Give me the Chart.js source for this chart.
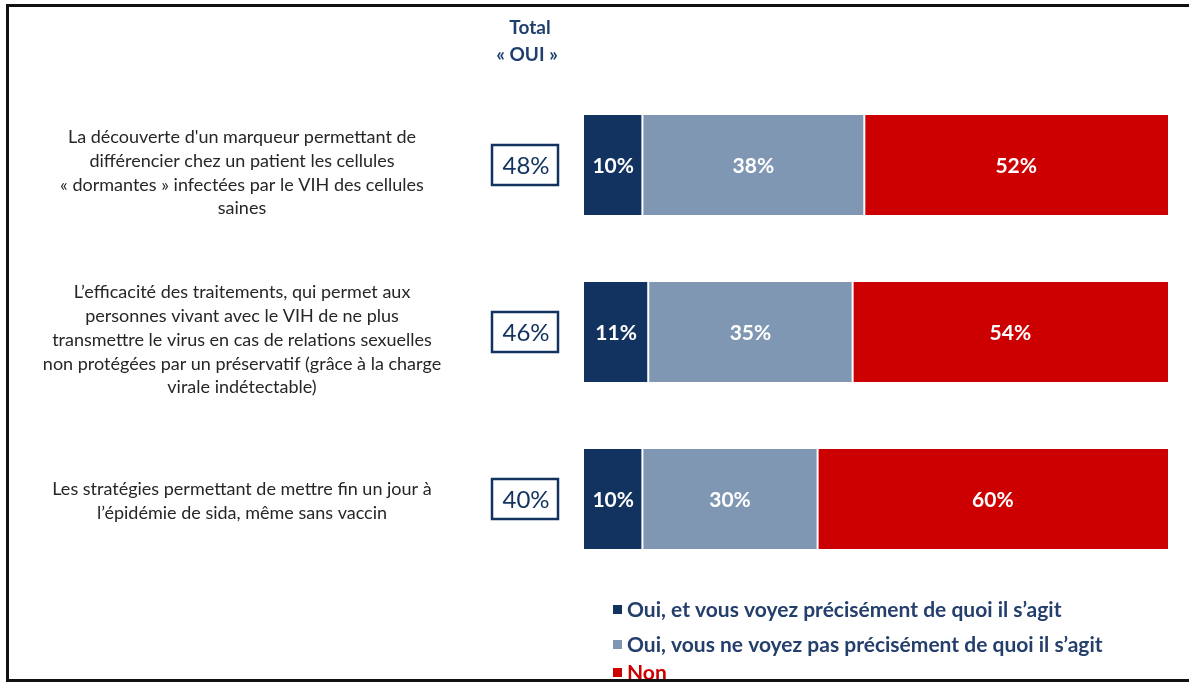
<!DOCTYPE html>
<html><head><meta charset="utf-8">
<script src="https://cdn.jsdelivr.net/npm/chart.js@4"></script>
<style>
html,body{margin:0;padding:0;background:#fff;}
#wrap{position:relative;width:1189px;height:683px;overflow:hidden;}
#frame{position:absolute;left:6px;top:4px;width:1200px;height:672px;border-top:3px solid #111;border-left:3px solid #111;border-bottom:3px solid #111;pointer-events:none;}
</style></head><body>
<div id="wrap"><canvas id="c" width="1189" height="683"></canvas><div id="frame"></div></div>
<script>
// ---- Data ----
const categories = [
  ["La découverte d'un marqueur permettant de", "différencier chez un patient les cellules", "« dormantes » infectées par le VIH des cellules", "saines"],
  ["L’efficacité des traitements, qui permet aux", "personnes vivant avec le VIH de ne plus", "transmettre le virus en cas de relations sexuelles", "non protégées par un préservatif (grâce à la charge", "virale indétectable)"],
  ["Les stratégies permettant de mettre fin un jour à", "l’épidémie de sida, même sans vaccin"]
];
const ouiPrecis = [10, 11, 10];
const ouiVague = [38, 35, 30];
const non = [52, 54, 60];
const totalOui = [48, 46, 40];
const seriesNames = ["Oui, et vous voyez précisément de quoi il s’agit", "Oui, vous ne voyez pas précisément de quoi il s’agit", "Non"];
const headerLines = ["Total", "« OUI »"];

const NAVY = '#12325f', GREY = '#7f97b2', RED = '#cc0000';
const FONT = 'Lato, "Open Sans", sans-serif';

const overlay = {
  id: 'overlay',
  afterDatasetsDraw(chart) {
    const ctx = chart.ctx;
    const ys = chart.scales.y;
    ctx.save();
    // values inside bars
    ctx.fillStyle = '#fff';
    ctx.font = 'bold 21px ' + FONT;
    ctx.textAlign = 'center';
    ctx.textBaseline = 'middle';
    chart.data.datasets.forEach((ds, di) => {
      chart.getDatasetMeta(di).data.forEach((el, i) => {
        ctx.fillText(ds.data[i] + '%', (el.x + el.base) / 2, el.y + 1);
      });
    });
    // left labels
    const offs = [8, 8, 2];
    ctx.fillStyle = '#262626';
    ctx.font = '18px ' + FONT;
    categories.forEach((lines, i) => {
      const cy = ys.getPixelForValue(i) + offs[i];
      const lh = 23.7;
      lines.forEach((t, k) => {
        ctx.fillText(t, 242, cy + (k - (lines.length - 1) / 2) * lh);
      });
    });
    // total boxes
    ctx.strokeStyle = NAVY;
    ctx.lineWidth = 2.5;
    ctx.fillStyle = NAVY;
    ctx.font = '24px ' + FONT;
    totalOui.forEach((v, i) => {
      const cy = ys.getPixelForValue(i);
      ctx.strokeRect(492, cy - 20, 66, 40);
      ctx.fillText(v + '%', 526, cy + 1);
    });
    // header
    ctx.font = 'bold 19px ' + FONT;
    ctx.fillStyle = '#1f3f6e';
    ctx.fillText(headerLines[0], 530, 28);
    ctx.fillText(headerLines[1], 527, 55);
    // legend
    ctx.textAlign = 'left';
    ctx.font = 'bold 21px ' + FONT;
    const ly = [609, 644, 672];
    chart.data.datasets.forEach((ds, di) => {
      ctx.fillStyle = ds.backgroundColor;
      ctx.fillRect(613, ly[di] - 4, 9, 9);
      ctx.fillStyle = di === 2 ? RED : '#243f6b';
      ctx.fillText(ds.label, 627, ly[di] + 1);
    });
    ctx.restore();
  }
};

new Chart(document.getElementById('c'), {
  type: 'bar',
  data: {
    labels: categories.map(l => l.join(' ')),
    datasets: [
      { label: seriesNames[0], data: ouiPrecis, backgroundColor: NAVY, borderColor: '#fff', borderWidth: {left:0, right:1, top:0, bottom:0}, borderSkipped: false },
      { label: seriesNames[1], data: ouiVague, backgroundColor: GREY, borderColor: '#fff', borderWidth: {left:1, right:1, top:0, bottom:0}, borderSkipped: false },
      { label: seriesNames[2], data: non, backgroundColor: RED, borderColor: '#fff', borderWidth: {left:1, right:0, top:0, bottom:0}, borderSkipped: false }
    ]
  },
  options: {
    indexAxis: 'y',
    responsive: false,
    animation: false,
    devicePixelRatio: 1,
    layout: { padding: { left: 584, right: 21, top: 81.5, bottom: 100.5 } },
    scales: {
      x: { stacked: true, min: 0, max: 100, display: false },
      y: { stacked: true, display: false }
    },
    datasets: { bar: { barPercentage: 1, categoryPercentage: 0.599 } },
    plugins: { legend: { display: false }, tooltip: { enabled: false } }
  },
  plugins: [overlay]
});
</script>
</body></html>
